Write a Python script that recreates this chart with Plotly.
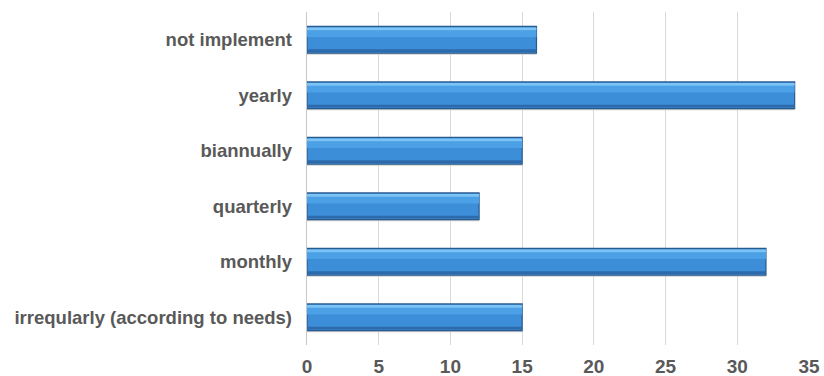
import plotly.graph_objects as go

categories = ["irreqularly (according to needs)", "monthly", "quarterly", "biannually", "yearly", "not implement"]
values = [15, 32, 12, 15, 34, 16]
tick_vals = [0, 5, 10, 15, 20, 25, 30, 35]

FONT = "Liberation Sans, Arial, sans-serif"

fig = go.Figure()
# soft shadow under bars
fig.add_trace(go.Bar(
    y=categories, x=values, orientation="h", width=0.04, offset=-0.27,
    marker=dict(color="#d0d0d0", line=dict(width=0)),
    showlegend=False, hoverinfo="skip",
))
# main bar body
fig.add_trace(go.Bar(
    y=categories, x=values, orientation="h", width=0.48, offset=-0.24,
    marker=dict(color="#3c8ed8", line=dict(color="#2a5a8c", width=1.2)),
    showlegend=False, hoverinfo="x+y",
))
# upper lighter body
fig.add_trace(go.Bar(
    y=categories, x=values, orientation="h", width=0.12, offset=0.05,
    marker=dict(color="#4ca0e6", line=dict(width=0)),
    showlegend=False, hoverinfo="skip",
))
# top highlight
fig.add_trace(go.Bar(
    y=categories, x=values, orientation="h", width=0.05, offset=0.17,
    marker=dict(color="#7cc4f5", line=dict(width=0)),
    showlegend=False, hoverinfo="skip",
))
# darker lower edge
fig.add_trace(go.Bar(
    y=categories, x=values, orientation="h", width=0.05, offset=-0.22,
    marker=dict(color="#2c6aab", line=dict(width=0)),
    showlegend=False, hoverinfo="skip",
))

fig.update_layout(
    width=824, height=376,
    margin=dict(l=307, r=15, t=12, b=31),
    barmode="overlay",
    plot_bgcolor="white", paper_bgcolor="white",
    font=dict(family=FONT, size=18, color="#595959"),
)
fig.update_xaxes(
    range=[0, 35], tickvals=tick_vals, showgrid=True, gridcolor="#d9d9d9", gridwidth=1,
    zeroline=False, showline=False, ticks="outside", ticklen=4, tickcolor="rgba(0,0,0,0)",
    automargin=False,
    tickfont=dict(size=19, color="#595959", family=FONT, weight="bold"),
)
fig.update_yaxes(
    categoryorder="array", categoryarray=categories, automargin=False,
    showline=True, linecolor="#c8c8c8", linewidth=1, ticks="", ticksuffix="  ",
    tickfont=dict(size=18.5, color="#595959", family=FONT, weight="bold"),
)

fig.write_html("out.html")
